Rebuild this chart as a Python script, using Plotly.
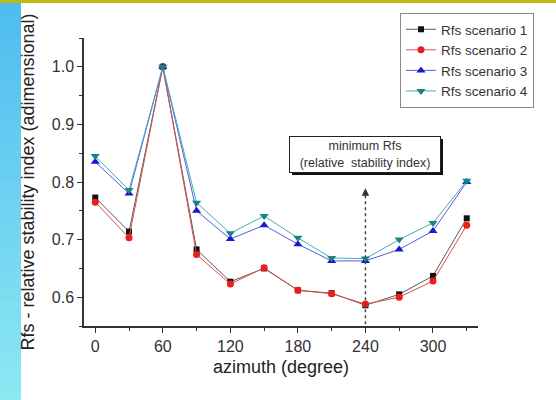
import plotly.graph_objects as go

# Azimuth directions (degrees) and relative stability index per scenario
azimuth = [0, 30, 60, 90, 120, 150, 180, 210, 240, 270, 300, 330]
rfs_s1 = [0.773, 0.714, 1.000, 0.683, 0.627, 0.650, 0.612, 0.607, 0.586, 0.605, 0.637, 0.737]
rfs_s2 = [0.765, 0.703, 1.000, 0.674, 0.623, 0.651, 0.612, 0.606, 0.588, 0.600, 0.628, 0.725]
rfs_s3 = [0.835, 0.780, 1.000, 0.750, 0.701, 0.725, 0.692, 0.663, 0.663, 0.683, 0.715, 0.800]
rfs_s4 = [0.845, 0.786, 1.000, 0.764, 0.711, 0.741, 0.703, 0.668, 0.667, 0.700, 0.729, 0.802]
series_names = ["Rfs scenario 1", "Rfs scenario 2", "Rfs scenario 3", "Rfs scenario 4"]

x_ticks = [0, 60, 120, 180, 240, 300]
y_ticks = [0.6, 0.7, 0.8, 0.9, 1.0]
min_azimuth = 240

FONT = "Liberation Sans, Arial, sans-serif"

# figure geometry (pixels)
W, H = 556, 400
L, R, T, B = 84, 78, 38, 74
PW, PH = W - L - R, H - T - B


def px_x(p):
    return (p - L) / PW


def px_y(p):
    return (H - B - p) / PH


styles = [
    dict(marker=dict(symbol="square", size=6, color="#111111"), line=dict(color="#5a5a5a", width=1)),
    dict(marker=dict(symbol="circle", size=7, color="#ee1c1c"), line=dict(color="#d85050", width=1)),
    dict(marker=dict(symbol="triangle-up", size=8, color="#1818d0"), line=dict(color="#5a5ae0", width=1)),
    dict(marker=dict(symbol="triangle-down", size=8, color="#178585"), line=dict(color="#44aeb8", width=1)),
]

fig = go.Figure()
for name, vals, st in zip(series_names, [rfs_s1, rfs_s2, rfs_s3, rfs_s4], styles):
    fig.add_trace(go.Scatter(x=azimuth, y=vals, name=name, mode="lines+markers",
                             marker=st["marker"], line=st["line"]))

shapes = []
# left gradient strip made of thin bands
n_bands = 40
c0, c1 = (78, 188, 240), (140, 232, 242)
for i in range(n_bands):
    t = i / (n_bands - 1)
    col = tuple(round(a + (b - a) * t) for a, b in zip(c0, c1))
    y_top = H * i / n_bands
    y_bot = H * (i + 1) / n_bands + 0.5
    shapes.append(dict(type="rect", xref="paper", yref="paper", layer="below",
                       x0=px_x(0), x1=px_x(21), y0=px_y(y_bot), y1=px_y(y_top),
                       fillcolor="rgb(%d,%d,%d)" % col, line=dict(width=0)))
# top olive band
shapes.append(dict(type="rect", xref="paper", yref="paper", layer="below",
                   x0=px_x(0), x1=px_x(W), y0=px_y(3), y1=px_y(0),
                   fillcolor="#c2b812", line=dict(width=0)))
# dashed marker line at minimum azimuth
shapes.append(dict(type="line", xref="x", yref="y", layer="above",
                   x0=min_azimuth, x1=min_azimuth, y0=0.553, y1=0.785,
                   line=dict(color="#444444", width=1.5, dash="dot")))
# shadow of the note box
shapes.append(dict(type="rect", xref="paper", yref="paper", layer="above",
                   x0=px_x(292), x1=px_x(443), y0=px_y(175), y1=px_y(139),
                   fillcolor="#111111", line=dict(width=0)))

annotations = [
    dict(x=min_azimuth, xref="x", y=px_y(154), yref="paper",
         text="minimum Rfs<br>(relative  stability index)", showarrow=False,
         font=dict(family=FONT, size=12.5, color="#333333"),
         bgcolor="white", bordercolor="#222222", borderwidth=1,
         width=148, height=33, xanchor="center", yanchor="middle"),
    dict(x=min_azimuth, xref="x", y=0.789, yref="y", text="", showarrow=True,
         ax=0, ay=9, arrowhead=2, arrowsize=1, arrowwidth=1.5, arrowcolor="#333333"),
]

fig.update_layout(
    width=W, height=H,
    margin=dict(l=L, r=R, t=T, b=B),
    paper_bgcolor="white", plot_bgcolor="white",
    font=dict(family=FONT, color="#333333"),
    shapes=shapes, annotations=annotations,
    showlegend=True,
    legend=dict(x=px_x(400), y=px_y(13), xanchor="left", yanchor="top",
                bgcolor="white", bordercolor="#8a8a8a", borderwidth=1,
                font=dict(family=FONT, size=13.5, color="#333333"),
                tracegroupgap=0, itemwidth=30),
    xaxis=dict(range=[-10, 340], tickvals=x_ticks, ticks="outside", ticklen=5,
               tickcolor="#333333", showline=True, linecolor="#333333", linewidth=1.5,
               showgrid=False, zeroline=False, tickfont=dict(size=16, color="#333333"),
               minor=dict(dtick=30, tick0=0, ticks="outside", ticklen=3, tickcolor="#333333"),
               title=dict(text="azimuth (degree)", font=dict(size=18, color="#222222"), standoff=6)),
    yaxis=dict(range=[0.55, 1.05], tickvals=y_ticks, tickformat=".1f", ticks="outside",
               ticklen=5, tickcolor="#333333", showline=True, linecolor="#333333", linewidth=1.5,
               showgrid=False, zeroline=False, tickfont=dict(size=16, color="#333333"),
               minor=dict(dtick=0.05, tick0=0.55, ticks="outside", ticklen=3, tickcolor="#333333"),
               title=dict(text="Rfs - relative stability index (adimensional)",
                          font=dict(size=18, color="#222222"), standoff=12)),
)

fig.write_html("out.html")
